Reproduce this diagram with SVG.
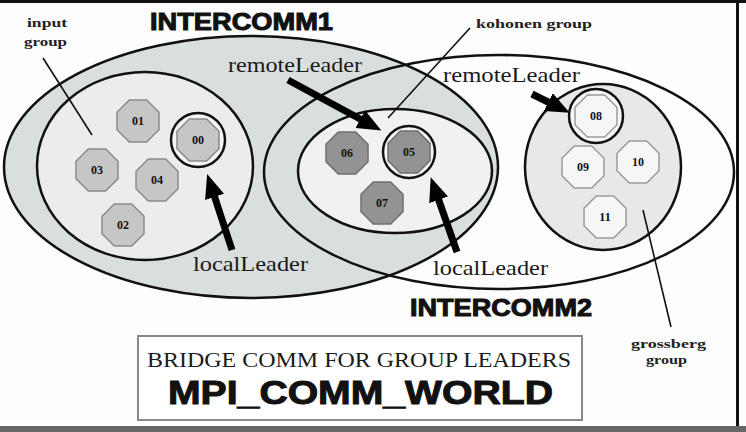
<svg xmlns="http://www.w3.org/2000/svg" width="746" height="432" viewBox="0 0 746 432">
<style>
.ring{stroke:#111;stroke-width:2.5}
.oc-in{fill:#c6c6c6;stroke:#8a8a8a;stroke-width:1.5}
.oc-ko{fill:#939393;stroke:#6f6f6f;stroke-width:1.5}
.oc-gr{fill:#f6f6f6;stroke:#9a9a9a;stroke-width:1.5}
.num{font-family:"Liberation Serif",serif;font-weight:bold;font-size:12px;fill:#111;text-anchor:middle}
.big{font-family:"Liberation Sans",Arial,sans-serif;font-weight:bold;fill:#111;stroke:#111;stroke-width:1}
.lbl{font-family:"Liberation Serif",serif;font-size:21px;fill:#1a1a1a}
.small{font-family:"Liberation Serif",serif;font-weight:bold;font-size:13px;fill:#222}
.line{stroke:#111;stroke-width:1.6;fill:none}
.arrow{stroke:#000;stroke-width:7;fill:none}
</style>
<defs>
<polygon id="oct" points="21,8.7 8.7,21 -8.7,21 -21,8.7 -21,-8.7 -8.7,-21 8.7,-21 21,-8.7"/>
<marker id="ah" markerUnits="userSpaceOnUse" markerWidth="26" markerHeight="20" refX="2" refY="10" orient="auto" viewBox="0 0 26 20">
<path d="M0,0 L24,10 L0,20 Z" fill="#000"/>
</marker>
</defs>
<rect x="0" y="0" width="746" height="432" fill="#fdfdfd"/>
<rect x="0" y="0" width="746" height="3" fill="#111"/>
<rect x="736" y="0" width="3" height="432" fill="#111"/>
<rect x="0" y="426" width="746" height="6" fill="#666"/>

<g id="intercomm1">
<ellipse cx="251" cy="167" rx="247" ry="131" fill="#d9dede" class="ring"/>
<text class="big" x="150" y="30" font-size="24" textLength="183" lengthAdjust="spacingAndGlyphs">INTERCOMM1</text>
</g>
<g id="input-group">
<ellipse cx="145" cy="166" rx="108" ry="94" fill="#ececec" class="ring"/>
<text class="small" x="27" y="27" textLength="40" lengthAdjust="spacingAndGlyphs">input</text>
<text class="small" x="24" y="46" textLength="43" lengthAdjust="spacingAndGlyphs">group</text>
</g>
<g id="kohonen-group">
<ellipse cx="395" cy="171" rx="97" ry="62" fill="#f1f1f1" class="ring"/>
<text class="small" x="476" y="28" textLength="116" lengthAdjust="spacingAndGlyphs">kohonen group</text>
</g>
<g id="intercomm2">
<ellipse cx="499" cy="172" rx="235" ry="117" fill="none" class="ring"/>
<text class="big" x="410" y="316" font-size="24" textLength="182" lengthAdjust="spacingAndGlyphs">INTERCOMM2</text>
</g>
<g id="grossberg-group">
<ellipse cx="603" cy="167" rx="78" ry="83" fill="#e8e8e8" class="ring"/>
<text class="small" x="631" y="348" textLength="75" lengthAdjust="spacingAndGlyphs">grossberg</text>
<text class="small" x="646" y="364" textLength="41" lengthAdjust="spacingAndGlyphs">group</text>
</g>

<g id="node-01"><use href="#oct" class="oc-in" x="138" y="121"/><text class="num" x="138" y="125">01</text></g>
<g id="node-00"><circle cx="198" cy="140" r="27" fill="#f4f4f4" class="ring"/><use href="#oct" class="oc-in" x="198" y="140"/><text class="num" x="198" y="144">00</text></g>
<g id="node-03"><use href="#oct" class="oc-in" x="97" y="170"/><text class="num" x="97" y="174">03</text></g>
<g id="node-04"><use href="#oct" class="oc-in" x="157" y="180"/><text class="num" x="157" y="184">04</text></g>
<g id="node-02"><use href="#oct" class="oc-in" x="123" y="225"/><text class="num" x="123" y="229">02</text></g>

<g id="node-06"><use href="#oct" class="oc-ko" x="347" y="153"/><text class="num" x="347" y="157">06</text></g>
<g id="node-05"><circle cx="409" cy="152" r="26" fill="#f4f4f4" class="ring"/><use href="#oct" class="oc-ko" x="409" y="152"/><text class="num" x="409" y="156">05</text></g>
<g id="node-07"><use href="#oct" class="oc-ko" x="382" y="203"/><text class="num" x="382" y="207">07</text></g>

<g id="node-08"><circle cx="596" cy="116" r="27" fill="#f6f6f6" class="ring"/><use href="#oct" class="oc-gr" x="596" y="116"/><text class="num" x="596" y="120">08</text></g>
<g id="node-09"><use href="#oct" class="oc-gr" x="583" y="167"/><text class="num" x="583" y="171">09</text></g>
<g id="node-10"><use href="#oct" class="oc-gr" x="638" y="162"/><text class="num" x="638" y="166">10</text></g>
<g id="node-11"><use href="#oct" class="oc-gr" x="605" y="217"/><text class="num" x="605" y="221">11</text></g>

<g id="connectors">
<line class="line" x1="43" y1="58" x2="92" y2="135"/>
<line class="line" x1="470" y1="28" x2="388" y2="118"/>
<line class="line" x1="643" y1="210" x2="671" y2="327"/>
<line class="arrow" x1="288" y1="80" x2="362" y2="120" marker-end="url(#ah)"/>
<line class="arrow" x1="232" y1="250" x2="214" y2="195" marker-end="url(#ah)"/>
<line class="arrow" x1="457" y1="252" x2="438" y2="198" marker-end="url(#ah)"/>
<line class="arrow" x1="532" y1="94" x2="550" y2="103" marker-end="url(#ah)"/>
</g>

<g id="leader-labels">
<text class="lbl" x="228" y="72" textLength="134" lengthAdjust="spacingAndGlyphs">remoteLeader</text>
<text class="lbl" x="443" y="82" textLength="137" lengthAdjust="spacingAndGlyphs">remoteLeader</text>
<text class="lbl" x="193" y="271" textLength="115" lengthAdjust="spacingAndGlyphs">localLeader</text>
<text class="lbl" x="433" y="275" textLength="115" lengthAdjust="spacingAndGlyphs">localLeader</text>
</g>

<g id="bridge-comm">
<rect x="138" y="336" width="444" height="84" fill="#fff" stroke="#888" stroke-width="2"/>
<text x="147" y="367" font-family="Liberation Serif,serif" font-size="20" fill="#1a1a1a" textLength="424" lengthAdjust="spacingAndGlyphs">BRIDGE COMM FOR GROUP LEADERS</text>
<text class="big" x="168" y="404" font-size="33" stroke-width="1.4" textLength="385" lengthAdjust="spacingAndGlyphs">MPI_COMM_WORLD</text>
</g>
</svg>
